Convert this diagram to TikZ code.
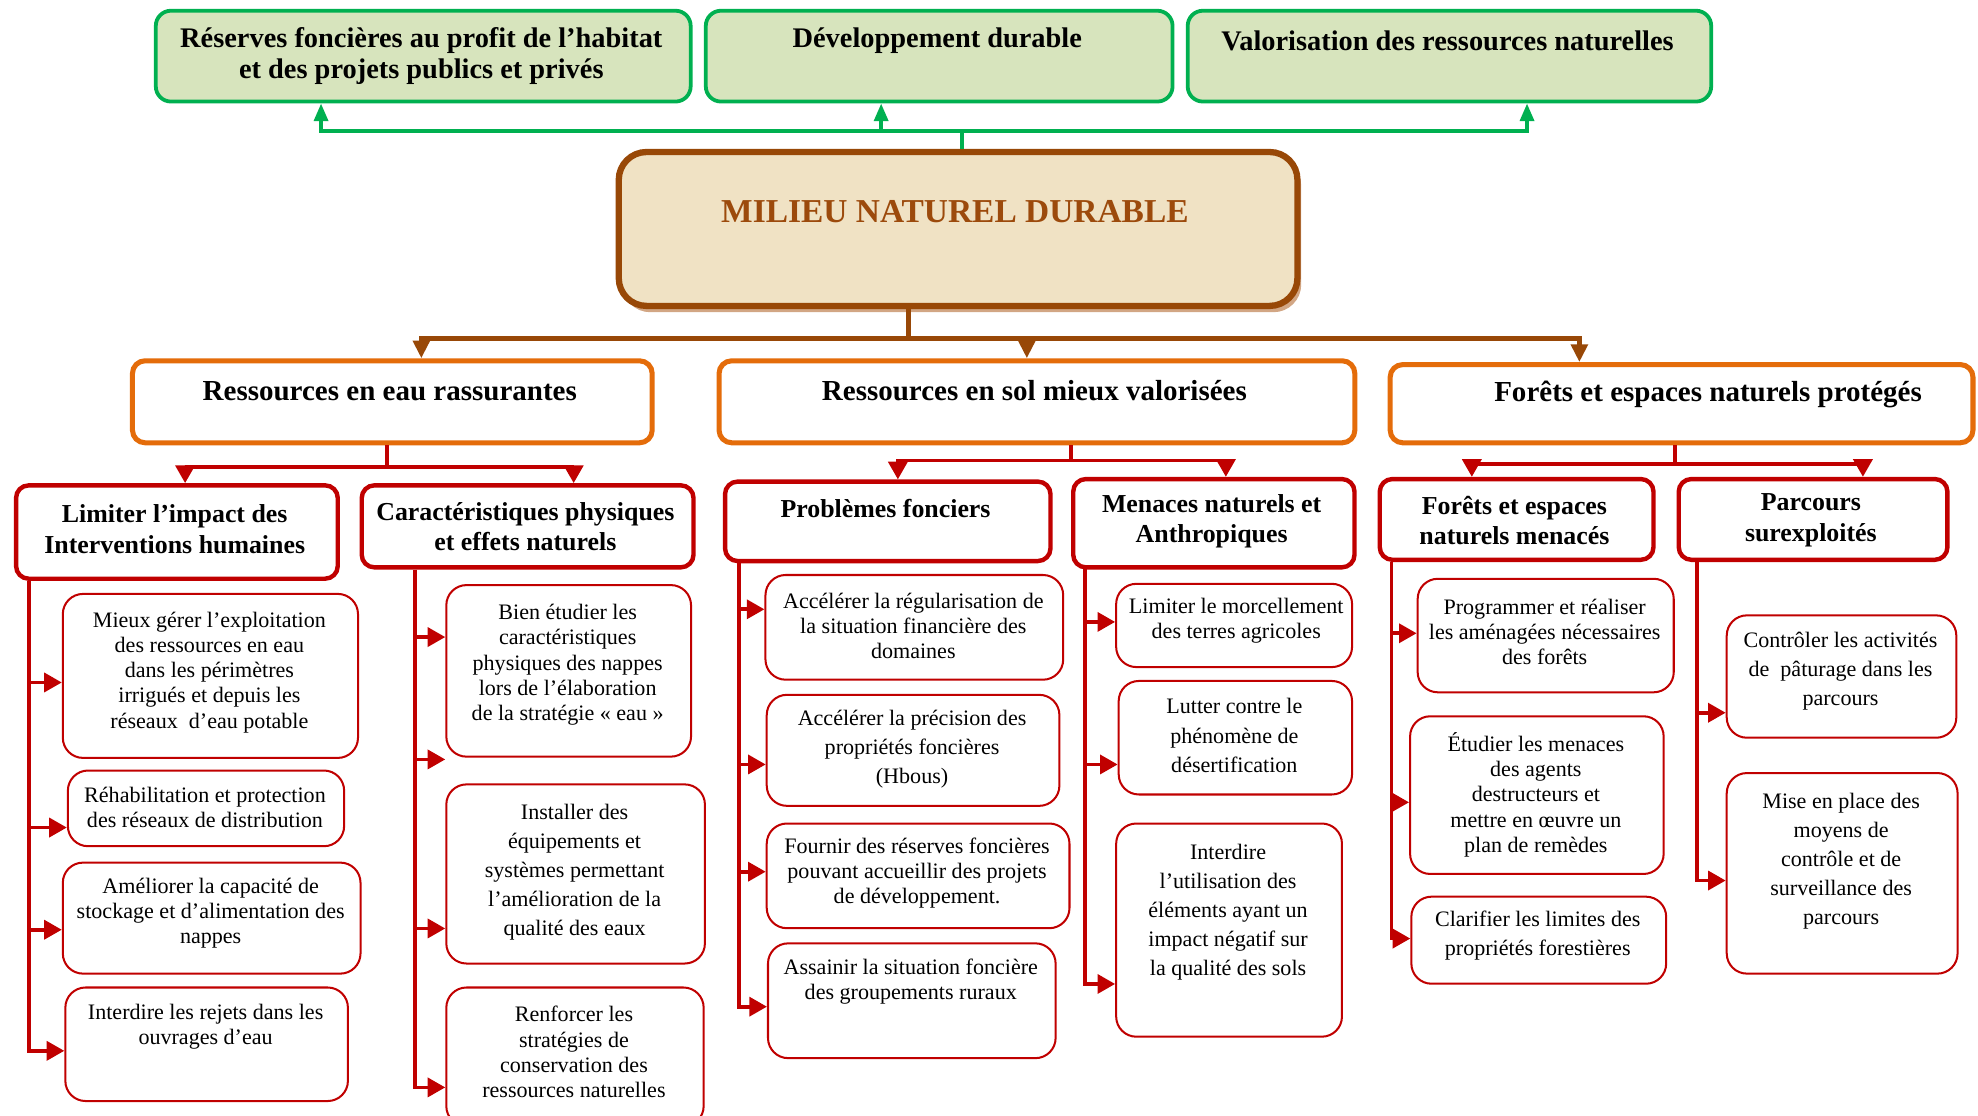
\documentclass[tikz,border=0pt]{standalone}
\usepackage{fontspec}
\setmainfont{Liberation Serif}
\usetikzlibrary{arrows.meta,shadows}
\definecolor{gborder}{HTML}{00B050}
\definecolor{gfill}{HTML}{D7E4BD}
\definecolor{brownA}{HTML}{984807}
\definecolor{mtext}{HTML}{9C4A0C}
\definecolor{mfill}{HTML}{F0E2C4}
\definecolor{mshadow}{HTML}{D2A684}
\definecolor{oborder}{HTML}{E46C0A}
\definecolor{rred}{HTML}{C00000}
\newcommand\mkbox[6]{\node[#1, anchor=north west, inner sep=0pt, minimum width={#5-#3}, minimum height={#6-#4}] (#2) at (#3,#4) {};}
\begin{document}
\begin{tikzpicture}[x=1pt,y=-1pt,
  gbox/.style={draw=gborder, line width=3pt, fill=gfill, rounded corners=12pt},
  mbox/.style={draw=brownA, line width=5pt, fill=mfill, rounded corners=22pt,
     drop shadow={shadow xshift=3pt, shadow yshift=-5pt, fill=mshadow, opacity=1}},
  obox/.style={draw=oborder, line width=4pt, fill=white, rounded corners=10pt},
  rbox/.style={draw=rred, line width=3.5pt, fill=white, rounded corners=10pt},
  leaf/.style={draw=rred, line width=1.6pt, fill=white, rounded corners=16pt},
  gline/.style={draw=gborder, line width=3pt},
  garrow/.style={gline, -{Triangle[length=14pt,width=11pt]}},
  bline/.style={draw=brownA, line width=4pt},
  barrow/.style={bline, -{Triangle[length=14pt,width=13pt]}},
  rline/.style={draw=rred, line width=3pt},
  rarrow/.style={rline, -{Triangle[length=14pt,width=15pt]}},
  basetxt/.style={align=center, inner sep=0pt},
  gt/.style={basetxt, font=\bfseries\fontsize{22.5}{25}\selectfont},
  mt/.style={basetxt, text=mtext, font=\bfseries\fontsize{26.5}{30}\selectfont},
  ot/.style={basetxt, font=\bfseries\fontsize{23}{27}\selectfont},
  rt/.style={basetxt, font=\bfseries\fontsize{20.5}{24}\selectfont},
  lt/.style={basetxt, font=\fontsize{17.5}{20}\selectfont},
  ltw/.style={basetxt, font=\fontsize{17.5}{23}\selectfont}
]
\useasboundingbox (0,0) rectangle (1568,884);

% ---------- boxes ----------
\mkbox{gbox}{G1}{122}{7}{546}{79}
\mkbox{gbox}{G2}{558}{7}{928}{79}
\mkbox{gbox}{G3}{940}{7}{1355}{79}
\mkbox{mbox}{M}{488}{118}{1026}{240}
\mkbox{obox}{O1}{103}{284}{515}{349}
\mkbox{obox}{O2}{568}{284}{1072}{349}
\mkbox{obox}{O3}{1100}{287}{1562}{349}
\mkbox{rbox}{L1}{11}{383}{266}{457}
\mkbox{rbox}{L2}{285}{383}{548}{448}
\mkbox{rbox}{P1}{573}{380}{831}{443}
\mkbox{rbox}{P2}{849}{378}{1072}{448}
\mkbox{rbox}{F1}{1092}{378}{1309}{442}
\mkbox{rbox}{F2}{1329}{378}{1542}{442}
% leaves
\mkbox{leaf}{a1}{49}{470}{283}{600}
\mkbox{leaf}{a2}{53}{610}{272}{670}
\mkbox{leaf}{a3}{49}{683}{285}{771}
\mkbox{leaf}{a4}{51}{782}{275}{872}
\mkbox{leaf}{b1}{353}{463}{547}{599}
\mkbox{leaf}{b2}{353}{621}{558}{763}
\mkbox{leaf}{b3}{353}{782}{557}{892}
\mkbox{leaf}{c1}{606}{455}{842}{538}
\mkbox{leaf}{c2}{607}{550}{839}{638}
\mkbox{leaf}{c3}{607}{652}{847}{735}
\mkbox{leaf}{c4}{608}{747}{836}{838}
\mkbox{leaf}{d1}{884}{462}{1071}{528}
\mkbox{leaf}{d2}{886}{539}{1071}{629}
\mkbox{leaf}{d3}{884}{652}{1063}{821}
\mkbox{leaf}{e1}{1123}{458}{1326}{548}
\mkbox{leaf}{e2}{1117}{567}{1318}{692}
\mkbox{leaf}{e3}{1118}{710}{1320}{779}
\mkbox{leaf}{f1}{1368}{487}{1550}{584}
\mkbox{leaf}{f2}{1368}{612}{1551}{771}

% ---------- texts ----------
\node[gt] (G1t) at (334,44.5) {Réserves foncières au profit de l’habitat\\et des projets publics et privés};
\node[gt] (G2t) at (743,32) {Développement durable};
\node[gt] (G3t) at (1147.5,32) {Valorisation des ressources naturelles};
\node[mt] (Mt) at (757,168) {MILIEU NATUREL DURABLE};
\node[ot] (O1t) at (309,310) {Ressources en eau rassurantes};
\node[ot] (O2t) at (820,310) {Ressources en sol mieux valorisées};
\node[ot] (O3t) at (1354,313) {Forêts et espaces naturels protégés};
\node[rt] (L1t) at (138.5,419.5) {Limiter l’impact des\\Interventions humaines};
\node[rt] (L2t) at (416.5,417.5) {Caractéristiques physiques\\et effets naturels};
\node[rt] (P1t) at (702,403) {Problèmes fonciers};
\node[rt] (P2t) at (960.5,413.5) {Menaces naturels et\\Anthropiques};
\node[rt] (F1t) at (1200.5,412.5) {Forêts et espaces\\naturels menacés};
\node[rt] (F2t) at (1435.5,412.5) {Parcours\\surexploités};

\node[lt] (a1t) at (166,533) {Mieux gérer l’exploitation\\des ressources en eau\\dans les périmètres\\irrigués et depuis les\\réseaux~ d’eau potable};
\node[lt] (a2t) at (162.5,640) {Réhabilitation et protection\\des réseaux de distribution};
\node[lt] (a3t) at (167,724) {Améliorer la capacité de\\stockage et d'alimentation des\\nappes};
\node[lt] (a4t) at (163,814) {Interdire les rejets dans les\\ouvrages d’eau};
\node[lt] (b1t) at (450,527) {Bien étudier les\\caractéristiques\\physiques des nappes\\lors de l’élaboration\\de la stratégie « eau »};
\node[ltw] (b2t) at (455.5,691.5) {Installer des\\équipements et\\systèmes permettant\\l’amélioration de la\\qualité des eaux};
\node[lt] (b3t) at (455,834) {Renforcer les\\stratégies de\\conservation des\\ressources naturelles};
\node[lt] (c1t) at (724,496) {Accélérer la régularisation de\\la situation financière des\\domaines};
\node[ltw] (c2t) at (723,594) {Accélérer la précision des\\propriétés foncières\\(Hbous)};
\node[lt] (c3t) at (727,692) {Fournir des réserves foncières\\pouvant accueillir des projets\\de développement.};
\node[lt] (c4t) at (722,778) {Assainir la situation foncière\\des groupements ruraux};
\node[lt] (d1t) at (980,492) {Limiter le morcellement\\des terres agricoles};
\node[ltw] (d2t) at (978.5,583) {Lutter contre le\\phénomène de\\désertification};
\node[ltw] (d3t) at (973.5,723) {Interdire\\l’utilisation des\\éléments ayant un\\impact négatif sur\\la qualité des sols};
\node[lt] (e1t) at (1224.5,501) {Programmer et réaliser\\les aménagées nécessaires\\des forêts};
\node[lt] (e2t) at (1217.5,630) {Étudier les menaces\\des agents\\destructeurs et\\mettre en œuvre un\\plan de remèdes};
\node[ltw] (e3t) at (1219,741.5) {Clarifier les limites des\\propriétés forestières};
\node[ltw] (f1t) at (1459,532) {Contrôler les activités\\de~ pâturage dans les\\parcours};
\node[ltw] (f2t) at (1459.5,683) {Mise en place des\\moyens de\\contrôle et de\\surveillance des\\parcours};

% ---------- green connectors ----------
\draw[gline] ([xshift=3pt]M.north) -- ++(0,-14) coordinate (jg);
\draw[garrow] (jg) -| ([xshift=-81pt]G1.south);
\draw[garrow] (jg) -| ([xshift=-46pt]G2.south);
\draw[garrow] (jg) -| ([xshift=61.5pt]G3.south);

% ---------- brown connectors ----------
\draw[bline] ([xshift=-39pt]M.south) -- ++(0,23) coordinate (jb);
\draw[barrow] (jb) -| ([xshift=23pt]O1.north);
\draw[barrow] (jb) -| ([xshift=-8pt]O2.north);
\draw[barrow] (jb) -| ([xshift=-81pt]O3.north);

% ---------- red level-2 connectors ----------
\draw[rline] ([xshift=-4pt]O1.south) -- ++(0,17) coordinate (j1);
\draw[rarrow] (j1) -| ([xshift=6.5pt]L1.north);
\draw[rarrow] (j1) -| ([xshift=36.5pt]L2.north);
\draw[rline] ([xshift=27pt]O2.south) -- ++(0,12) coordinate (j2);
\draw[rarrow] (j2) -| ([xshift=8pt]P1.north);
\draw[rarrow] (j2) -| ([xshift=9.5pt]P2.north);
\draw[rline] ([xshift=-5pt]O3.south) -- ++(0,15) coordinate (j3);
\draw[rarrow] (j3) -| ([xshift=-35.5pt]F1.north);
\draw[rarrow] (j3) -| ([xshift=39.5pt]F2.north);

% ---------- leaf trunks ----------
\coordinate (tA) at (23,833);
\draw[rarrow] (L1.south -| tA) |- (a4.west |- tA);
\draw[rarrow] (tA |- 0,541) -- (a1.west |- 0,541);
\draw[rarrow] (tA |- 0,656) -- (a2.west |- 0,656);
\draw[rarrow] (tA |- 0,737) -- (a3.west |- 0,737);

\coordinate (tB) at (329,862);
\coordinate (stray) at (353,602);
\draw[rarrow] (L2.south -| tB) |- (b3.west |- tB);
\draw[rarrow] (tB |- 0,505) -- (b1.west |- 0,505);
\draw[rarrow] (stray -| tB) -- (stray);
\draw[rarrow] (tB |- 0,736) -- (b2.west |- 0,736);

\coordinate (tC) at (586,798);
\draw[rarrow] (P1.south -| tC) |- (c4.west |- tC);
\draw[rarrow] (tC |- 0,483) -- (c1.west |- 0,483);
\draw[rarrow] (tC |- 0,606) -- (c2.west |- 0,606);
\draw[rarrow] (tC |- 0,691) -- (c3.west |- 0,691);

\coordinate (tD) at (860,780);
\draw[rarrow] (tD |- 0,450) |- (d3.west |- tD);
\draw[rarrow] (tD |- 0,493) -- (d1.west |- 0,493);
\draw[rarrow] (tD |- 0,606) -- (d2.west |- 0,606);

\coordinate (tE) at (1103,744);
\draw[rarrow] (F1.south -| tE) |- (e3.west |- tE);
\draw[rarrow] (tE |- 0,502) -- (e1.west |- 0,502);
\draw[rarrow] (tE |- 0,636) -- (e2.west |- 0,636);

\coordinate (tF) at (1345,698);
\draw[rarrow] (F2.south -| tF) |- (f2.west |- tF);
\draw[rarrow] (tF |- 0,565) -- (f1.west |- 0,565);
\end{tikzpicture}
\end{document}
